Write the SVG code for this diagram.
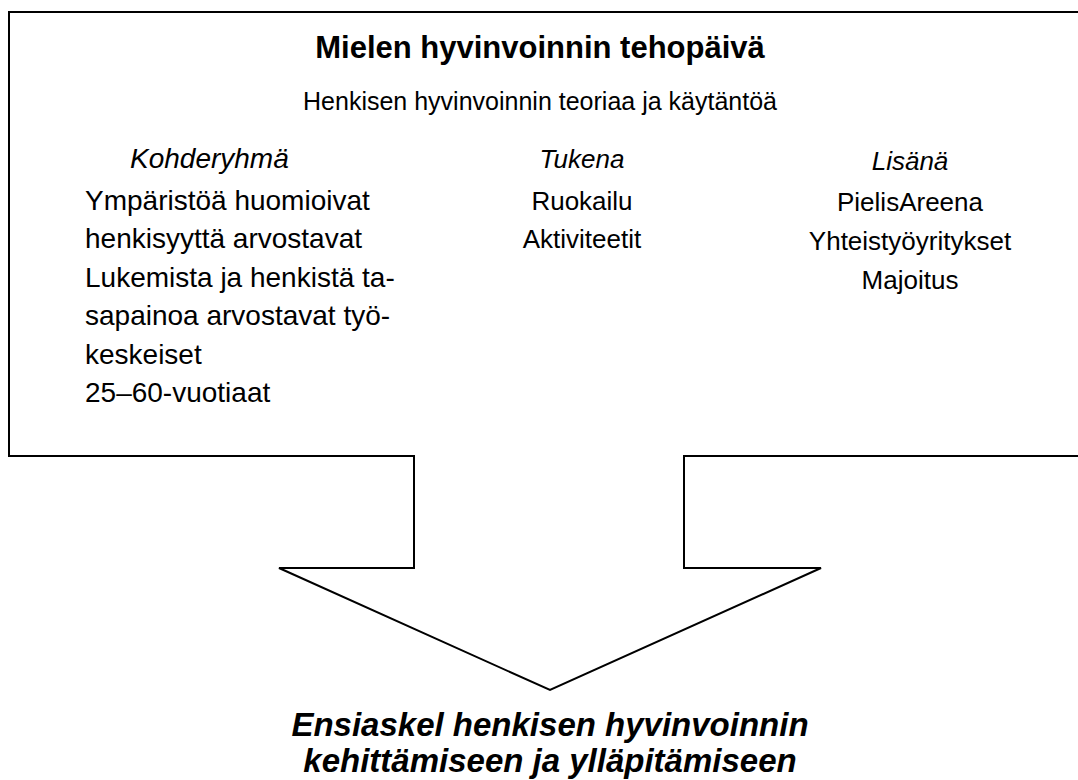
<svg xmlns="http://www.w3.org/2000/svg" width="1078" height="780" viewBox="0 0 1078 780">
<style>
text{font-family:"Liberation Sans",Arial,sans-serif;fill:#000}
.t{font-size:31px;font-weight:bold}
.s{font-size:25px}
.b{font-size:28px}
.i{font-size:28px;font-style:italic}
.r{font-size:26px}
.ri{font-size:26px;font-style:italic}
.c{text-anchor:middle}
.o{font-size:33px;font-weight:bold;font-style:italic;text-anchor:middle}
.ln{fill:#fff;stroke:#000;stroke-width:2;stroke-linejoin:miter}
</style>
<rect width="1078" height="780" fill="#fff"/>
<g id="connectors">
<path class="ln" d="M9,12 L1090,12 L1090,456 L684,456 L684,568 L821,568 L550,690 L279,568 L414,568 L414,456 L9,456 Z"/>
</g>
<g id="header">
<text class="t c" x="540" y="58">Mielen hyvinvoinnin tehopäivä</text>
<text class="s c" x="540" y="110">Henkisen hyvinvoinnin teoriaa ja käytäntöä</text>
</g>
<g id="kohderyhma">
<text class="i" x="130" y="168">Kohderyhmä</text>
<text class="b" x="85" y="209.5">Ympäristöä huomioivat</text>
<text class="b" x="85" y="248">henkisyyttä arvostavat</text>
<text class="b" x="85" y="286.5">Lukemista ja henkistä ta-</text>
<text class="b" x="85" y="325">sapainoa arvostavat työ-</text>
<text class="b" x="85" y="363.5">keskeiset</text>
<text class="b" x="85" y="402">25–60-vuotiaat</text>
</g>
<g id="tukena">
<text class="ri c" x="582" y="168">Tukena</text>
<text class="r c" x="582" y="209.5">Ruokailu</text>
<text class="r c" x="582" y="248">Aktiviteetit</text>
</g>
<g id="lisana">
<text class="ri c" x="910" y="170">Lisänä</text>
<text class="r c" x="910" y="211">PielisAreena</text>
<text class="r c" x="910" y="250">Yhteistyöyritykset</text>
<text class="r c" x="910" y="289">Majoitus</text>
</g>
<g id="tulos">
<text class="o" x="550" y="736">Ensiaskel henkisen hyvinvoinnin</text>
<text class="o" x="550" y="772">kehittämiseen ja ylläpitämiseen</text>
</g>
</svg>
